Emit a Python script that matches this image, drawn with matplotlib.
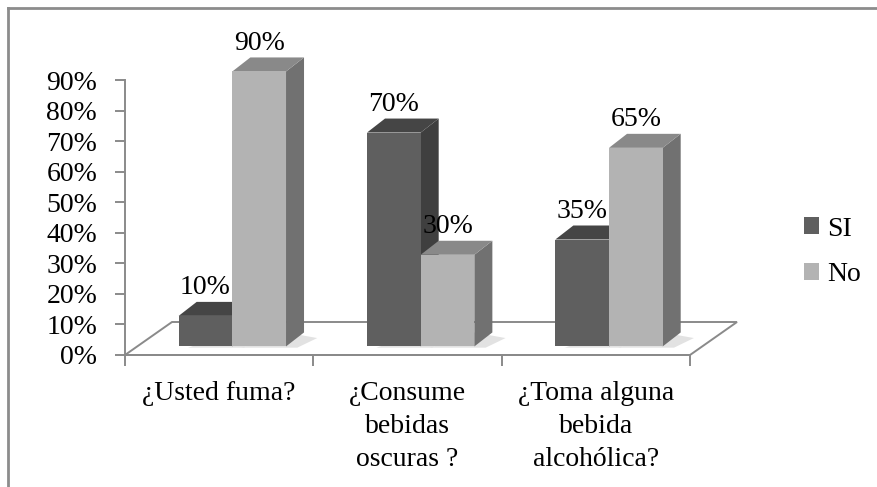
#!/usr/bin/env python3

"""Excel-style 3D clustered bars: habits survey (SI / No)."""

import matplotlib

matplotlib.use("Agg")
import matplotlib.pyplot as plt
from matplotlib.lines import Line2D
from matplotlib.patches import Patch, Polygon

categories = ["¿Usted fuma?", "¿Consume\nbebidas\noscuras ?", "¿Toma alguna\nbebida\nalcohólica?"]
series_names = ["SI", "No"]
si_values = [10, 70, 35]
no_values = [90, 30, 65]
y_ticks = [0, 10, 20, 30, 40, 50, 60, 70, 80, 90]

FRONT = {"SI": "#5f5f5f", "No": "#b3b3b3"}
TOP = {"SI": "#454545", "No": "#898989"}
SIDE = {"SI": "#3f3f3f", "No": "#717171"}
GRID_GRAY = "#8a8a8a"

W_PX, H_PX = 877, 487
plt.rcParams["font.family"] = ["Liberation Serif", "DejaVu Serif"]
FS = 20

fig = plt.figure(figsize=(W_PX / 100, H_PX / 100), dpi=100)

# plot area in pixels: x 125..690, y(0%) 355 .. y(90%) 80
ax = fig.add_axes([125 / W_PX, 1 - 355 / H_PX, 565 / W_PX, 275 / H_PX])
ax.set_xlim(0, 3)
ax.set_ylim(0, 90)

px_x = 565 / 3.0
px_y = 275 / 90.0

# floor depth and bar geometry (converted from pixels to data units)
floor_dx, floor_dy = 47 / px_x, 33 / px_y
bar_w = 0.285
shift_x, shift_y = 0.07, 2.8
side_dx, side_dy = 18 / px_x, 14 / px_y

# floor outline
floor = Polygon(
    [(0, 0), (3, 0), (3 + floor_dx, floor_dy), (floor_dx, floor_dy)],
    closed=True, fill=False, edgecolor=GRID_GRAY, linewidth=1.4, clip_on=False, zorder=1,
)
ax.add_patch(floor)


def draw_bar(x0, h, name, z):
    x1 = x0 + bar_w
    y0 = shift_y
    y1 = shift_y + h
    # soft shadow on the floor, to the right of the bar
    shadow = Polygon(
        [(x0 + 0.05, y0 - 0.4), (x1 + 0.06, y0 - 0.4),
         (x1 + side_dx + 0.07, y0 + side_dy * 0.6), (x1, y0 + side_dy)],
        closed=True, facecolor="#e2e2e2", edgecolor="none", clip_on=False, zorder=2,
    )
    ax.add_patch(shadow)
    ax.add_patch(Polygon(
        [(x1, y0), (x1 + side_dx, y0 + side_dy), (x1 + side_dx, y1 + side_dy), (x1, y1)],
        closed=True, facecolor=SIDE[name], edgecolor="none", clip_on=False, zorder=z,
    ))
    ax.add_patch(Polygon(
        [(x0, y1), (x1, y1), (x1 + side_dx, y1 + side_dy), (x0 + side_dx, y1 + side_dy)],
        closed=True, facecolor=TOP[name], edgecolor="none", clip_on=False, zorder=z,
    ))
    ax.bar(x0, h, width=bar_w, bottom=y0, align="edge", color=FRONT[name],
           edgecolor="none", clip_on=False, zorder=z)
    ax.text(x0 + bar_w / 2, y1 + side_dy + 0.6, f"{h}%", ha="center", va="bottom",
            fontsize=FS, color="black", zorder=20, clip_on=False)


z = 3
for i in range(len(categories)):
    base = i + 0.5 - bar_w + shift_x
    draw_bar(base, si_values[i], "SI", z)
    z += 1
    draw_bar(base + bar_w, no_values[i], "No", z)
    z += 1

# axes styling
for side in ("top", "right"):
    ax.spines[side].set_visible(False)
for side in ("left", "bottom"):
    ax.spines[side].set_color(GRID_GRAY)
    ax.spines[side].set_linewidth(1.4)
ax.patch.set_alpha(0)

ax.set_yticks(y_ticks)
ax.set_yticklabels([f"{t}%" for t in y_ticks])
ax.tick_params(axis="y", direction="out", length=7, width=1.4, color=GRID_GRAY,
               labelsize=FS, pad=13)

ax.set_xticks([0, 1, 2, 3])
ax.set_xticklabels([])
ax.set_xticks([0.5, 1.5, 2.5], minor=True)
ax.set_xticklabels(categories, minor=True, fontsize=FS, va="top", linespacing=1.42)
ax.tick_params(axis="x", which="major", direction="out", length=8, width=1.4, color=GRID_GRAY)
ax.tick_params(axis="x", which="minor", length=0, pad=19)

# legend
handles = [Patch(facecolor=FRONT[n], edgecolor="none") for n in series_names]
fig.legend(handles, series_names, loc="center left",
           bbox_to_anchor=(804 / W_PX, 1 - 252 / H_PX), frameon=False, fontsize=FS,
           borderpad=0, borderaxespad=0,
           handlelength=0.55, handleheight=0.55, handletextpad=0.3, labelspacing=0.75)

# outer chart frame (cut by the image border at right and bottom)
fig.add_artist(Line2D([8 / W_PX, 1.0], [1 - 8 / H_PX, 1 - 8 / H_PX], color="#8c8c8c",
                      linewidth=2.0, transform=fig.transFigure))
fig.add_artist(Line2D([8 / W_PX, 8 / W_PX], [1 - 8 / H_PX, 0.0], color="#8c8c8c",
                      linewidth=2.0, transform=fig.transFigure))

fig.savefig("out.png", dpi=100)
